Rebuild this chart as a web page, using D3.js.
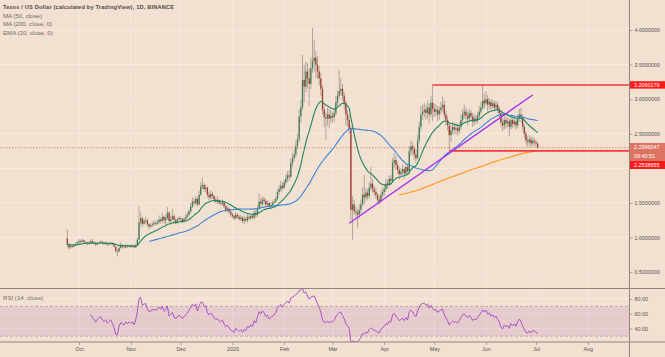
<!DOCTYPE html>
<html><head><meta charset="utf-8">
<script src="https://cdn.jsdelivr.net/npm/d3@7"></script>
<style>
html,body{margin:0;padding:0;background:#f2e1d0;overflow:hidden;}
svg{display:block;font-family:"Liberation Sans",Arial,sans-serif;}
</style></head><body>
<svg id="c" width="665" height="357"></svg>
<script>
// ---------------- data (daily XTZ/USD, Binance) ----------------
const startDate = "2019-09-24";
const firstOpen = 0.99;
const closes = [
 0.90,0.86,0.88,0.87,0.89,0.91,0.93,
 0.95,0.94,0.96,0.94,0.93,0.91,0.93,0.95,0.93,0.92,0.90,0.92,0.93,0.94,0.92,0.91,0.92,0.90,0.91,0.92,0.90,0.87,0.81,0.80,0.85,0.88,0.87,0.86,0.88,0.87,0.88,
 0.87,0.88,0.86,0.89,0.97,1.22,1.28,1.20,1.24,1.25,1.19,1.16,1.18,1.19,1.21,1.20,1.22,1.26,1.24,1.30,1.25,1.28,1.36,1.24,1.27,1.31,1.25,1.22,1.26,1.28,
 1.27,1.24,1.27,1.30,1.33,1.38,1.45,1.52,1.50,1.56,1.48,1.62,1.74,1.76,1.70,1.72,1.62,1.58,1.63,1.60,1.55,1.52,1.54,1.50,1.49,1.51,1.45,1.40,1.42,1.37,1.33,
 1.31,1.28,1.33,1.30,1.27,1.29,1.24,1.27,1.25,1.30,1.28,1.31,1.29,1.36,1.33,1.42,1.52,1.49,1.55,1.53,1.48,1.50,1.45,1.47,1.50,1.52,1.56,1.66,1.70,1.75,1.72,
 1.80,1.85,1.90,1.88,2.08,2.15,2.20,2.32,2.42,2.75,2.88,3.28,3.18,3.40,3.30,3.22,3.45,3.55,3.60,3.50,3.40,3.30,3.15,2.85,2.74,2.72,2.78,2.72,2.76,
 2.74,2.80,2.95,3.05,3.12,3.15,3.05,2.95,2.78,2.70,2.58,1.40,1.48,1.38,1.36,1.33,1.40,1.48,1.62,1.58,1.65,1.60,1.72,1.78,1.70,1.66,1.62,1.55,1.52,1.62,1.66,
 1.70,1.78,1.76,1.85,1.82,2.08,2.12,2.05,1.98,1.92,1.95,1.99,1.93,2.02,1.96,2.25,2.32,2.28,2.20,2.15,2.40,2.60,2.78,2.82,2.85,2.80,2.88,2.78,2.95,2.86,
 2.82,2.85,2.78,2.84,2.88,2.92,2.78,2.70,2.62,2.48,2.55,2.60,2.56,2.58,2.54,2.60,2.70,2.78,2.82,2.76,2.72,2.80,2.75,2.68,2.72,2.70,2.76,2.82,2.88,2.98,2.94,
 3.00,2.92,2.96,2.90,2.94,2.88,2.92,2.85,2.80,2.66,2.62,2.70,2.65,2.68,2.60,2.70,2.64,2.68,2.62,2.72,2.78,2.74,2.60,2.50,2.40,2.38,2.42,2.36,2.40,2.38,
 2.36,2.2996047
];
const highs = [
 1.12,0.92,0.90,0.90,0.91,0.93,0.95,
 0.98,0.97,0.99,0.97,0.95,0.94,0.95,0.97,0.98,0.95,0.94,0.93,0.94,0.96,0.95,0.93,0.94,0.93,0.92,0.94,0.93,0.91,0.88,0.83,0.90,0.93,0.90,0.89,0.91,0.89,0.90,
 0.89,0.90,0.89,0.91,1.00,1.45,1.36,1.30,1.27,1.30,1.27,1.21,1.21,1.23,1.25,1.24,1.26,1.32,1.29,1.36,1.32,1.33,1.44,1.38,1.32,1.42,1.34,1.28,1.29,1.31,
 1.30,1.29,1.29,1.34,1.37,1.41,1.50,1.58,1.56,1.60,1.58,1.68,1.80,1.86,1.79,1.77,1.74,1.66,1.68,1.66,1.62,1.58,1.60,1.56,1.53,1.55,1.53,1.48,1.46,1.44,1.40,
 1.36,1.34,1.37,1.35,1.33,1.33,1.31,1.32,1.30,1.34,1.33,1.34,1.33,1.40,1.39,1.46,1.64,1.57,1.60,1.59,1.56,1.54,1.52,1.51,1.53,1.56,1.60,1.70,1.76,1.82,1.79,
 1.84,1.92,1.96,1.97,2.14,2.22,2.28,2.40,2.50,2.85,3.00,3.64,3.50,3.55,3.52,3.45,3.60,4.03,3.85,3.70,3.62,3.48,3.38,3.20,2.92,2.82,2.88,2.86,2.84,
 2.82,2.88,3.05,3.12,3.42,3.30,3.22,3.10,2.98,2.85,2.76,2.62,1.60,1.55,1.45,1.42,1.48,1.55,1.72,1.90,1.72,1.70,1.80,2.02,1.85,1.75,1.72,1.65,1.60,1.68,1.72,
 1.76,1.85,1.84,1.90,1.90,2.15,2.22,2.18,2.10,2.02,2.00,2.06,2.02,2.08,2.06,2.32,2.40,2.38,2.33,2.28,2.48,2.68,2.90,2.92,2.95,2.92,2.98,2.94,3.05,3.21,
 2.94,2.92,2.90,2.90,2.96,3.04,2.98,2.84,2.76,2.66,2.62,2.68,2.66,2.66,2.64,2.66,2.78,2.86,2.92,2.88,2.82,2.86,2.84,2.80,2.78,2.78,2.82,2.90,2.96,3.21,3.08,
 3.12,3.06,3.02,3.00,3.00,2.98,2.98,2.96,2.90,2.84,2.72,2.76,2.74,2.74,2.72,2.76,2.74,2.74,2.72,2.78,2.86,2.88,2.78,2.64,2.54,2.46,2.48,2.46,2.45,2.44,
 2.42,2.38
];
const lows = [
 0.86,0.83,0.84,0.85,0.86,0.88,0.89,
 0.91,0.92,0.93,0.92,0.91,0.89,0.90,0.92,0.92,0.90,0.88,0.89,0.91,0.92,0.90,0.89,0.90,0.88,0.89,0.90,0.89,0.86,0.78,0.73,0.79,0.84,0.85,0.84,0.85,0.85,0.86,
 0.85,0.86,0.85,0.85,0.88,0.96,1.18,1.15,1.18,1.21,1.16,1.12,1.14,1.15,1.17,1.18,1.18,1.20,1.20,1.22,1.20,1.17,1.26,1.21,1.18,1.25,1.22,1.19,1.20,1.24,
 1.23,1.21,1.22,1.24,1.28,1.31,1.36,1.43,1.46,1.47,1.45,1.46,1.60,1.70,1.66,1.65,1.58,1.52,1.55,1.56,1.52,1.49,1.49,1.47,1.46,1.46,1.42,1.37,1.37,1.34,1.30,
 1.28,1.25,1.26,1.27,1.24,1.24,1.21,1.20,1.22,1.22,1.25,1.26,1.26,1.27,1.28,1.30,1.40,1.44,1.46,1.48,1.45,1.45,1.42,1.41,1.45,1.47,1.50,1.54,1.62,1.66,1.68,
 1.70,1.76,1.80,1.82,1.86,2.02,2.10,2.16,2.28,2.38,2.66,2.84,2.95,3.10,3.15,2.90,3.15,3.38,3.40,3.30,3.30,3.20,3.05,2.78,2.60,2.41,2.62,2.58,2.66,
 2.66,2.68,2.76,2.90,3.00,3.05,2.98,2.85,2.62,2.60,2.50,1.25,0.97,1.33,1.30,1.15,1.28,1.35,1.45,1.48,1.52,1.55,1.56,1.68,1.65,1.60,1.56,1.50,1.48,1.50,1.58,
 1.60,1.66,1.70,1.73,1.76,1.80,2.00,1.98,1.92,1.84,1.88,1.90,1.85,1.90,1.92,1.92,2.18,2.20,2.12,2.08,2.12,2.36,2.55,2.70,2.74,2.70,2.72,2.65,2.74,2.68,
 2.74,2.76,2.68,2.70,2.78,2.82,2.72,2.62,2.55,2.25,2.38,2.48,2.50,2.50,2.47,2.50,2.56,2.66,2.72,2.70,2.62,2.68,2.70,2.60,2.62,2.64,2.66,2.72,2.78,2.85,2.86,
 2.90,2.82,2.86,2.84,2.86,2.82,2.84,2.80,2.74,2.60,2.54,2.56,2.58,2.60,2.46,2.56,2.58,2.60,2.56,2.58,2.68,2.66,2.55,2.44,2.34,2.30,2.33,2.30,2.32,2.32,
 2.30,2.28
];
const priceTicks = [0.5, 1, 1.5, 2, 2.5, 3, 3.5, 4];
const hiddenPriceLabels = [2];          // covered by the price tags in the reference
const rsiTicks = [40, 60, 80];
const rsiBand = [30, 70];
const monthTicks = ["2019-10-01","2019-11-01","2019-12-01","2020-01-01","2020-02-01","2020-03-01","2020-04-01","2020-05-01","2020-06-01","2020-07-01","2020-08-01"];
const monthLabels = ["Oct","Nov","Dec","2020","Feb","Mar","Apr","May","Jun","Jul","Aug"];
const resistance = {price: 3.2060179, from: "2020-04-30"};
const support = {price: 2.2538655, from: "2020-05-10"};
const trendLine = [{date: "2020-03-11", price: 1.207}, {date: "2020-06-29", price: 3.061}];
const lastPrice = 2.2996047;
const countdown = "09:40:51";
const legendTitle = "Tezos / US Dollar (calculated by TradingView), 1D, BINANCE";
const legendItems = ["MA (50, close)", "MA (200, close, 0)", "EMA (20, close, 0)"];
const rsiTitle = "RSI (14, close)";

// ---------------- build series ----------------
const parse = d3.utcParse("%Y-%m-%d");
const t0 = parse(startDate);
const bars = closes.map((c, i) => ({
  date: d3.utcDay.offset(t0, i),
  open: i === 0 ? firstOpen : closes[i - 1],
  close: c, high: highs[i], low: lows[i]
}));
function sma(n) {
  return closes.map((c, i) => i < n - 1 ? null : d3.mean(closes.slice(i - n + 1, i + 1)));
}
function ema(n) {
  const a = 2 / (n + 1); let prev = null;
  return closes.map(c => (prev = prev === null ? c : a * c + (1 - a) * prev));
}
function rsi(n) {
  const out = closes.map(() => null);
  let up = 0, dn = 0;
  for (let i = 1; i < closes.length; i++) {
    const ch = closes[i] - closes[i - 1];
    const u = Math.max(ch, 0), d = Math.max(-ch, 0);
    if (i <= n) { up += u / n; dn += d / n; if (i === n) out[i] = 100 - 100 / (1 + up / dn); }
    else { up = (up * (n - 1) + u) / n; dn = (dn * (n - 1) + d) / n; out[i] = dn === 0 ? 100 : 100 - 100 / (1 + up / dn); }
  }
  return out;
}
const ma50 = sma(50), ma200 = sma(200), ema20 = ema(20), rsi14 = rsi(14);

// ---------------- layout ----------------
const W = 665, H = 357, axisX = 629.5;
const mainTop = 0, mainBot = 288.5, rsiTop = 288.5, rsiBot = 342;
const svg = d3.select("#c");
const x = d3.scaleUtc().domain([parse("2019-10-01"), parse("2020-07-01")]).range([79, 536]);
const y = d3.scaleLinear().domain([0.5, 4]).range([272.2, 30]);
const yr = d3.scaleLinear().domain([40, 80]).range([328.7, 299]);

svg.append("rect").attr("width", W).attr("height", H).attr("fill", "#f2e1d0");

svg.append("clipPath").attr("id", "cm").append("rect")
  .attr("x", 0).attr("y", mainTop).attr("width", axisX).attr("height", mainBot - mainTop);
svg.append("clipPath").attr("id", "cr").append("rect")
  .attr("x", 0).attr("y", rsiTop).attr("width", axisX).attr("height", rsiBot - rsiTop);

// grid
const grid = svg.append("g").attr("stroke", "#f7ece1").attr("stroke-width", 0.8);
monthTicks.forEach(m => {
  const xx = x(parse(m));
  grid.append("line").attr("x1", xx).attr("x2", xx).attr("y1", 0).attr("y2", rsiBot);
});
priceTicks.forEach(p => grid.append("line").attr("x1", 0).attr("x2", axisX).attr("y1", y(p)).attr("y2", y(p)));
rsiTicks.forEach(p => grid.append("line").attr("x1", 0).attr("x2", axisX).attr("y1", yr(p)).attr("y2", yr(p)));

// RSI band
svg.append("rect").attr("x", 0).attr("width", axisX)
  .attr("y", yr(rsiBand[1])).attr("height", yr(rsiBand[0]) - yr(rsiBand[1]))
  .attr("fill", "#9632b4").attr("fill-opacity", 0.12);
rsiBand.forEach(v => svg.append("line").attr("x1", 0).attr("x2", axisX).attr("y1", yr(v)).attr("y2", yr(v))
  .attr("stroke", "#b8a0a4").attr("stroke-width", 0.8).attr("stroke-dasharray", "3,2"));

// main pane
const main = svg.append("g").attr("clip-path", "url(#cm)");

// last price dotted line
main.append("line").attr("x1", 0).attr("x2", axisX).attr("y1", y(lastPrice)).attr("y2", y(lastPrice))
  .attr("stroke", "#e07a6a").attr("stroke-width", 0.8).attr("stroke-dasharray", "1.5,1.5");

// candles
const up = "#3f7d56", down = "#a33a2e";
main.append("g").selectAll("line").data(bars).join("line")
  .attr("x1", d => x(d.date)).attr("x2", d => x(d.date))
  .attr("y1", d => y(d.high)).attr("y2", d => y(d.low))
  .attr("stroke", "#a0968b").attr("stroke-opacity", 0.8).attr("stroke-width", 1);
main.append("g").selectAll("rect").data(bars).join("rect")
  .attr("x", d => x(d.date) - 0.65).attr("width", 1.3)
  .attr("y", d => y(Math.max(d.open, d.close)))
  .attr("height", d => Math.max(0.6, Math.abs(y(d.open) - y(d.close))))
  .attr("fill", d => d.close >= d.open ? up : down);

// moving averages
function drawLine(g, vals, sc, color, w) {
  const ln = d3.line().defined(d => d.v !== null).x(d => x(d.date)).y(d => sc(d.v));
  g.append("path").datum(bars.map((b, i) => ({date: b.date, v: vals[i]})))
    .attr("d", ln).attr("fill", "none").attr("stroke", color).attr("stroke-width", w).attr("stroke-linejoin", "round");
}
drawLine(main, ma200, y, "#ff9b1c", 1.2);
drawLine(main, ma50, y, "#3a86d8", 1.1);
drawLine(main, ema20, y, "#1c8466", 1.1);

// drawn lines
main.append("line").attr("x1", x(parse(resistance.from))).attr("x2", axisX)
  .attr("y1", y(resistance.price)).attr("y2", y(resistance.price)).attr("stroke", "#f23a3a").attr("stroke-width", 1.6);
main.append("line").attr("x1", x(parse(support.from))).attr("x2", axisX)
  .attr("y1", y(support.price)).attr("y2", y(support.price)).attr("stroke", "#f23a3a").attr("stroke-width", 1.6);
main.append("line")
  .attr("x1", x(parse(trendLine[0].date))).attr("y1", y(trendLine[0].price))
  .attr("x2", x(parse(trendLine[1].date))).attr("y2", y(trendLine[1].price))
  .attr("stroke", "#a832f0").attr("stroke-width", 1.4);

// RSI line
const rg = svg.append("g").attr("clip-path", "url(#cr)");
drawLine(rg, rsi14, yr, "#a444c8", 0.9);

// separators
const sep = "#8d8780";
svg.append("line").attr("x1", 0).attr("x2", W).attr("y1", mainBot).attr("y2", mainBot).attr("stroke", sep).attr("stroke-width", 1);
svg.append("line").attr("x1", 0).attr("x2", W).attr("y1", rsiBot).attr("y2", rsiBot).attr("stroke", sep).attr("stroke-width", 1);
svg.append("line").attr("x1", axisX).attr("x2", axisX).attr("y1", 0).attr("y2", H).attr("stroke", sep).attr("stroke-width", 1);

// axes
const fs = 5.4, txt = "#555";
const fmtP = d3.format(".7f");
const ay = svg.append("g").attr("transform", `translate(${axisX},0)`)
  .call(d3.axisRight(y).tickValues(priceTicks)
    .tickFormat(d => hiddenPriceLabels.includes(d) ? "" : fmtP(d)).tickSize(3).tickPadding(2));
const ar = svg.append("g").attr("transform", `translate(${axisX},0)`)
  .call(d3.axisRight(yr).tickValues(rsiTicks).tickFormat(d3.format(".2f")).tickSize(3).tickPadding(2));
const ax = svg.append("g").attr("transform", `translate(0,${rsiBot})`)
  .call(d3.axisBottom(x).tickValues(monthTicks.map(parse)).tickFormat((d, i) => monthLabels[i]).tickSize(3).tickPadding(2));
[ay, ar, ax].forEach(g => {
  g.select(".domain").remove();
  g.selectAll(".tick line").attr("stroke", "#8d8780").attr("stroke-width", 0.7);
  g.selectAll("text").attr("fill", txt).attr("font-size", fs).attr("font-family", "Liberation Sans, Arial, sans-serif");
});

// price labels on axis
function tag(yc, h, fill, lines, op) {
  const g = svg.append("g");
  g.append("rect").attr("x", axisX + 0.5).attr("y", yc - h / 2).attr("width", W - axisX).attr("height", h)
    .attr("fill", fill).attr("fill-opacity", op);
  lines.forEach((t, i) => g.append("text").attr("x", 634).attr("y", yc - h / 2 + 6 + i * 9)
    .attr("fill", "#fff").attr("font-size", fs).text(t));
}
tag(y(resistance.price), 7.4, "#ff1a1a", [fmtP(resistance.price)], 1);
tag(152, 18, "#d9604f", [fmtP(lastPrice), countdown], 0.85);
tag(165, 8, "#ff1a1a", [fmtP(support.price)], 1);

// legend
svg.append("text").attr("x", 3).attr("y", 9).attr("font-size", 5.6).attr("font-weight", "bold")
  .attr("fill", "#4a4a4a").attr("textLength", 171).text(legendTitle);
legendItems.forEach((t, i) => svg.append("text").attr("x", 3).attr("y", 17.5 + i * 8.5)
  .attr("font-size", 6.1).attr("fill", "#6b6b6b").text(t));
svg.append("text").attr("x", 3).attr("y", 299.5).attr("font-size", 6.1).attr("fill", "#6b6b6b").text(rsiTitle);
</script>
</body></html>
